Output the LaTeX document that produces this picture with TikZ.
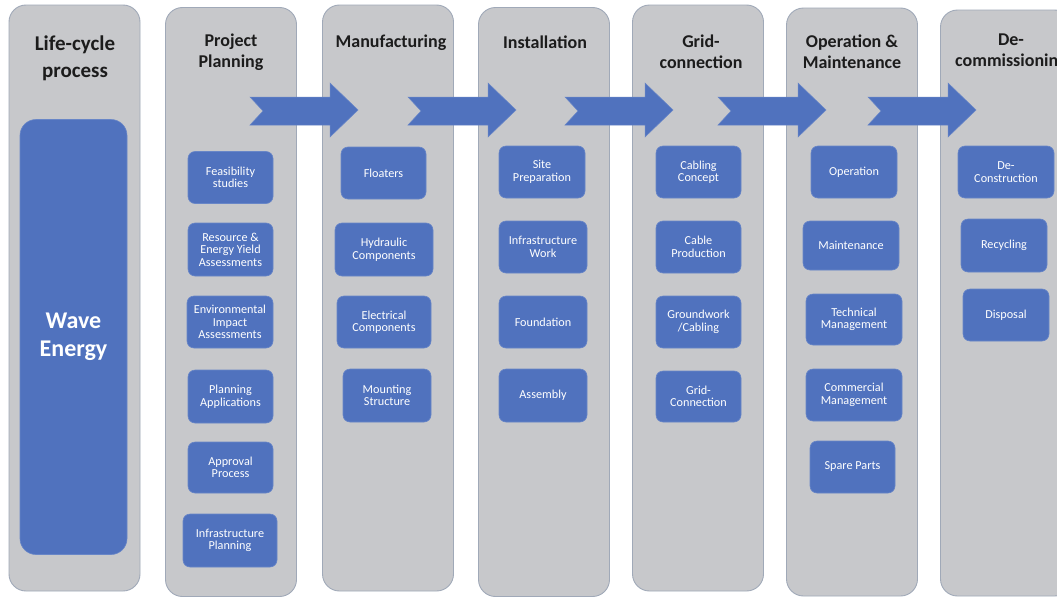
\documentclass[tikz,border=0pt]{standalone}
\usepackage{fontspec}
\setmainfont{Carlito}
\usetikzlibrary{positioning}
\definecolor{phasebg}{RGB}{199,200,203}
\definecolor{phaseline}{RGB}{160,169,184}
\definecolor{stepblue}{RGB}{80,114,190}
\definecolor{stepline}{RGB}{104,134,199}
\definecolor{headtxt}{RGB}{28,28,28}

\begin{document}
\begin{tikzpicture}[x=1pt, y=-1pt,
        phase/.style={draw=phaseline, fill=phasebg, line width=0.9pt,
                      rounded corners=17pt, minimum width=131pt},
        head/.style={font=\fontsize{18}{21}\selectfont\bfseries,
                     text=headtxt, align=center, inner sep=0pt},
        task/.style={draw=stepline, fill=stepblue, text=white, line width=0.6pt,
                     rounded corners=7pt, minimum width=#1, minimum height=52pt,
                     align=center, inner sep=0pt,
                     font=\fontsize{12.2}{12.5}\selectfont},
        task/.default=86pt,
        flow/.style={draw=stepline, fill=stepblue, line width=0.5pt}
      ]
        \useasboundingbox (0,0) rectangle (1057,597);
        \clip (0,0) rectangle (1057,597);
        \fill[white] (0,0) rectangle (1057,597);

        % phase columns
        \node[phase, minimum height=586pt] (c0) at (74.5,298) {};
        \node[phase, minimum height=589pt] (c1) at (231,302) {};
        \node[phase, minimum height=586pt] (c2) at (388,298) {};
        \node[phase, minimum height=589pt] (c3) at (544,302) {};
        \node[phase, minimum height=586pt] (c4) at (698,298) {};
        \node[phase, minimum height=588pt] (c5) at (852,302) {};
        \node[phase, minimum height=586pt] (c6) at (1006,303) {};

        \node[head, font=\fontsize{21}{27}\selectfont\bfseries] (h0) at (75,58) {Life-cycle\\process};
        \node[head] (h1) at (231,52) {Project\\Planning};
        \node[head] (h2) at (391,43) {Manufacturing};
        \node[head] (h3) at (545,42) {Installation};
        \node[head] (h4) at (701,52) {Grid-\\connection};
        \node[head] (h5) at (852,52) {Operation \&\\Maintenance};
        \node[head] (h6) at (1011,52) {De-\\commissioning};

        \node[task, minimum width=107pt, minimum height=435pt, rounded corners=16pt,
              font=\fontsize{24}{28}\selectfont\bfseries] (wave) at (73.5,337) {Wave\\Energy};

        % arrows between the phases
        \foreach \x in {250,408,565,718,868}
          \draw[flow] (\x,97) -- (\x+80,97) -- (\x+80,83) -- (\x+108,110)
            -- (\x+80,137) -- (\x+80,125) -- (\x,125) -- (\x+13,111) -- cycle;

        \node[task=85pt] (p1) at (230.5,177.5) {Feasibility\\studies};
        \node[task=85pt, minimum height=53pt] (p2) at (230.5,249.5) {Resource \&\\Energy Yield\\Assessments};
        \node[task=86pt] (p3) at (230,322) {Environmental\\Impact\\Assessments};
        \node[task=85pt, minimum height=53pt] (p4) at (230.5,396.5) {Planning\\Applications};
        \node[task=85pt, minimum height=51pt] (p5) at (230.5,467.5) {Approval\\Process};
        \node[task=94pt, minimum height=53pt] (p6) at (230,540.5) {Infrastructure\\Planning};

        \node[task=85pt] (m1) at (383.5,173) {Floaters};
        \node[task=98pt, minimum height=53pt] (m2) at (384,249.5) {Hydraulic\\Components};
        \node[task=94pt] (m3) at (384,322) {Electrical\\Components};
        \node[task=88pt, minimum height=53pt] (m4) at (387,395.5) {Mounting\\Structure};

        \node[task] (i1) at (542,172) {Site\\Preparation};
        \node[task=88pt] (i2) at (543,247) {Infrastructure\\Work};
        \node[task=88pt] (i3) at (543,322) {Foundation};
        \node[task=88pt, minimum height=53pt] (i4) at (543,395.5) {Assembly};

        \node[task=85pt] (g1) at (698.5,172) {Cabling\\Concept};
        \node[task=85pt] (g2) at (698.5,247) {Cable\\Production};
        \node[task=85pt] (g3) at (698.5,322) {Groundwork\\/Cabling};
        \node[task=85pt, minimum height=51pt] (g4) at (698.5,396.5) {Grid-\\Connection};

        \node[task] (o1) at (854,172) {Operation};
        \node[task=96pt, minimum height=49pt] (o2) at (851,245.5) {Maintenance};
        \node[task=96pt, minimum height=51pt] (o3) at (854,319.5) {Technical\\Management};
        \node[task=96pt] (o4) at (854,395) {Commercial\\Management};
        \node[task=85pt] (o5) at (852.5,467) {Spare Parts};

        \node[task=96pt] (d1) at (1006,172) {De-\\Construction};
        \node[task, minimum height=53pt] (d2) at (1004,245.5) {Recycling};
        \node[task] (d3) at (1006,315) {Disposal};
      \end{tikzpicture}
\end{document}
